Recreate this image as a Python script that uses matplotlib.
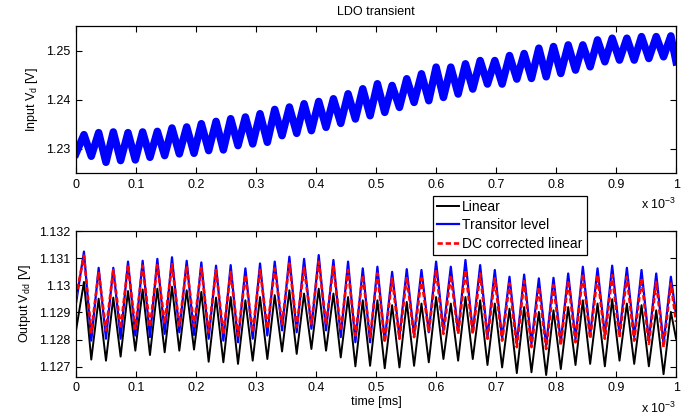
import matplotlib
matplotlib.use("Agg")
import matplotlib.pyplot as plt
import numpy as np
from matplotlib.ticker import FormatStrFormatter, MultipleLocator

plt.rcParams['font.family'] = ['Liberation Sans', 'DejaVu Sans']
plt.rcParams['font.size'] = 9
plt.rcParams['mathtext.fontset'] = 'custom'
plt.rcParams['mathtext.rm'] = 'Liberation Sans'
plt.rcParams['mathtext.it'] = 'Liberation Sans:italic'

# times of the ripple peaks and troughs (ms)
t_peak = [0.0133, 0.0378, 0.0622, 0.0867, 0.1111, 0.1356, 0.1600, 0.1845, 0.2089, 0.2334,
          0.2578, 0.2823, 0.3067, 0.3312, 0.3556, 0.3801, 0.4045, 0.4290, 0.4534, 0.4779,
          0.5023, 0.5268, 0.5512, 0.5757, 0.6001, 0.6246, 0.6490, 0.6735, 0.6979, 0.7224,
          0.7468, 0.7713, 0.7957, 0.8202, 0.8446, 0.8691, 0.8935, 0.9180, 0.9424, 0.9669,
          0.9913]
t_trough = [0.0255, 0.0500, 0.0744, 0.0989, 0.1233, 0.1478, 0.1722, 0.1967, 0.2211, 0.2456,
            0.2700, 0.2945, 0.3189, 0.3434, 0.3678, 0.3923, 0.4167, 0.4412, 0.4656, 0.4901,
            0.5145, 0.5390, 0.5634, 0.5879, 0.6123, 0.6368, 0.6612, 0.6857, 0.7101, 0.7346,
            0.7590, 0.7835, 0.8079, 0.8324, 0.8568, 0.8813, 0.9057, 0.9302, 0.9546, 0.9791]
t_start, t_end = 0.0, 1.0

# input voltage Vd
vin_start, vin_end = 1.22898, 1.24776
vin_peak = [1.23286, 1.23327, 1.23341, 1.23327, 1.23341, 1.23353, 1.23422, 1.23443, 1.23510, 1.23557,
            1.23612, 1.23647, 1.23714, 1.23802, 1.23851, 1.23918, 1.23965, 1.24020, 1.24122, 1.24224,
            1.24327, 1.24292, 1.24429, 1.24531, 1.24667, 1.24667, 1.24735, 1.24802, 1.24802, 1.24904,
            1.24945, 1.25055, 1.25088, 1.25122, 1.25122, 1.25224, 1.25259, 1.25259, 1.25292, 1.25292,
            1.25306]
vin_trough = [1.22843, 1.22720, 1.22755, 1.22769, 1.22822, 1.22857, 1.22892, 1.22904, 1.22959, 1.22973,
              1.23061, 1.23096, 1.23129, 1.23265, 1.23312, 1.23367, 1.23435, 1.23516, 1.23606, 1.23673,
              1.23741, 1.23843, 1.23945, 1.23980, 1.24047, 1.24116, 1.24218, 1.24320, 1.24320, 1.24422,
              1.24435, 1.24469, 1.24537, 1.24606, 1.24673, 1.24776, 1.24810, 1.24810, 1.24843, 1.24878]

# output Vdd - linear model
lin_start, lin_end = 1.12832, 1.12803
lin_peak = [1.13013, 1.12951, 1.12955, 1.12979, 1.12985, 1.12988, 1.12995, 1.12982, 1.12976, 1.12955,
            1.12957, 1.12945, 1.12957, 1.12964, 1.12982, 1.12970, 1.12988, 1.12970, 1.12957, 1.12945,
            1.12945, 1.12927, 1.12939, 1.12933, 1.12957, 1.12933, 1.12957, 1.12945, 1.12933, 1.12914,
            1.12920, 1.12902, 1.12908, 1.12920, 1.12945, 1.12933, 1.12949, 1.12933, 1.12927, 1.12908,
            1.12902]
lin_trough = [1.12726, 1.12722, 1.12737, 1.12759, 1.12743, 1.12753, 1.12759, 1.12763, 1.12718, 1.12716,
              1.12710, 1.12722, 1.12728, 1.12756, 1.12747, 1.12765, 1.12759, 1.12734, 1.12701, 1.12703,
              1.12694, 1.12697, 1.12703, 1.12716, 1.12728, 1.12722, 1.12728, 1.12706, 1.12697, 1.12676,
              1.12679, 1.12669, 1.12691, 1.12706, 1.12710, 1.12701, 1.12722, 1.12710, 1.12701, 1.12672]

# output Vdd - transistor level
tr_start, tr_end = 1.12933, 1.12889
tr_peak = [1.13125, 1.13065, 1.13065, 1.13088, 1.13091, 1.13098, 1.13104, 1.13091, 1.13085, 1.13073,
           1.13075, 1.13063, 1.13081, 1.13088, 1.13106, 1.13098, 1.13112, 1.13094, 1.13088, 1.13063,
           1.13069, 1.13050, 1.13060, 1.13057, 1.13088, 1.13069, 1.13094, 1.13075, 1.13057, 1.13032,
           1.13040, 1.13026, 1.13028, 1.13044, 1.13069, 1.13063, 1.13073, 1.13065, 1.13057, 1.13044,
           1.13032]
tr_trough = [1.12796, 1.12803, 1.12803, 1.12815, 1.12809, 1.12821, 1.12827, 1.12817, 1.12803, 1.12796,
             1.12790, 1.12803, 1.12815, 1.12834, 1.12827, 1.12840, 1.12834, 1.12809, 1.12790, 1.12790,
             1.12796, 1.12809, 1.12815, 1.12827, 1.12834, 1.12827, 1.12827, 1.12809, 1.12803, 1.12784,
             1.12784, 1.12778, 1.12790, 1.12803, 1.12815, 1.12815, 1.12821, 1.12809, 1.12796, 1.12784]

# output Vdd - DC corrected linear
dc_start, dc_end = 1.12957, 1.12865
dc_peak = [1.13110, 1.13050, 1.13057, 1.13075, 1.13073, 1.13075, 1.13078, 1.13073, 1.13065, 1.13057,
           1.13050, 1.13038, 1.13057, 1.13063, 1.13081, 1.13065, 1.13088, 1.13069, 1.13057, 1.13038,
           1.13044, 1.13026, 1.13032, 1.13026, 1.13057, 1.13038, 1.13057, 1.13044, 1.13026, 1.13007,
           1.13016, 1.12995, 1.13001, 1.13019, 1.13044, 1.13038, 1.13038, 1.13032, 1.13026, 1.13013,
           1.13007]
dc_trough = [1.12827, 1.12834, 1.12840, 1.12840, 1.12846, 1.12858, 1.12852, 1.12850, 1.12827, 1.12821,
             1.12815, 1.12827, 1.12840, 1.12858, 1.12846, 1.12858, 1.12855, 1.12834, 1.12815, 1.12809,
             1.12790, 1.12803, 1.12809, 1.12827, 1.12821, 1.12821, 1.12821, 1.12803, 1.12796, 1.12772,
             1.12772, 1.12765, 1.12778, 1.12790, 1.12803, 1.12803, 1.12809, 1.12796, 1.12784, 1.12772]


def trace(start, peaks, troughs, end):
    # put the read extremes in time order: start, P0, T0, P1, T1, ..., P40, end
    mid = np.empty(len(peaks) + len(troughs))
    mid[0::2] = peaks
    mid[1::2] = troughs
    return np.concatenate([[start], mid, [end]])


t = trace(t_start, t_peak, t_trough, t_end)

fig = plt.figure(figsize=(6.97, 4.18), dpi=100)
ax1 = fig.add_axes([0.109, 0.586, 0.861, 0.352])
ax2 = fig.add_axes([0.109, 0.099, 0.861, 0.349])

# thick stroke stands in for the noisy band of the input trace
ax1.plot(t, trace(vin_start, vin_peak, vin_trough, vin_end), color='#0000ff', lw=5.4,
         solid_joinstyle='round')
ax1.set_xlim(0, 1)
ax1.set_ylim(1.225, 1.2551)
ax1.yaxis.set_major_locator(MultipleLocator(0.01))
ax1.yaxis.set_major_formatter(FormatStrFormatter('%g'))
ax1.set_ylabel(r'Input V$_\mathrm{d}$ [V]')
ax1.set_title('LDO transient', fontsize=9, pad=8)

ax2.plot(t, trace(lin_start, lin_peak, lin_trough, lin_end), color='black', lw=1.4, label='Linear')
ax2.plot(t, trace(tr_start, tr_peak, tr_trough, tr_end), color='#0000ff', lw=1.6, label='Transitor level')
ax2.plot(t, trace(dc_start, dc_peak, dc_trough, dc_end), color='#ff0000', lw=1.9,
         dashes=(2.0, 1.1), label='DC corrected linear')
ax2.set_xlim(0, 1)
ax2.set_ylim(1.12663, 1.13202)
ax2.yaxis.set_major_locator(MultipleLocator(0.001))
ax2.yaxis.set_major_formatter(FormatStrFormatter('%g'))
ax2.set_ylabel(r'Output V$_\mathrm{dd}$ [V]')
ax2.set_xlabel('time [ms]', labelpad=1)

for ax in (ax1, ax2):
    ax.xaxis.set_major_locator(MultipleLocator(0.1))
    ax.xaxis.set_major_formatter(FormatStrFormatter('%g'))
    ax.tick_params(direction='in', top=True, right=True, length=4, width=0.8, labelsize=9, pad=4)
    for s in ax.spines.values():
        s.set_linewidth(0.9)

fig.text(0.970, 1 - 209 / 418, r'x 10$^{-3}$', ha='right', va='baseline', fontsize=9)
fig.text(0.970, 1 - 413 / 418, r'x 10$^{-3}$', ha='right', va='baseline', fontsize=9)

leg = fig.legend(loc='upper left', bbox_to_anchor=(433 / 697, 1 - 196 / 418), fancybox=False,
                 framealpha=1, edgecolor='black', fontsize=10, handlelength=1.6, handletextpad=0.2,
                 labelspacing=0.3, borderpad=0.3, borderaxespad=0)
leg.get_frame().set_linewidth(0.9)

fig.savefig('out.png', dpi=100)
